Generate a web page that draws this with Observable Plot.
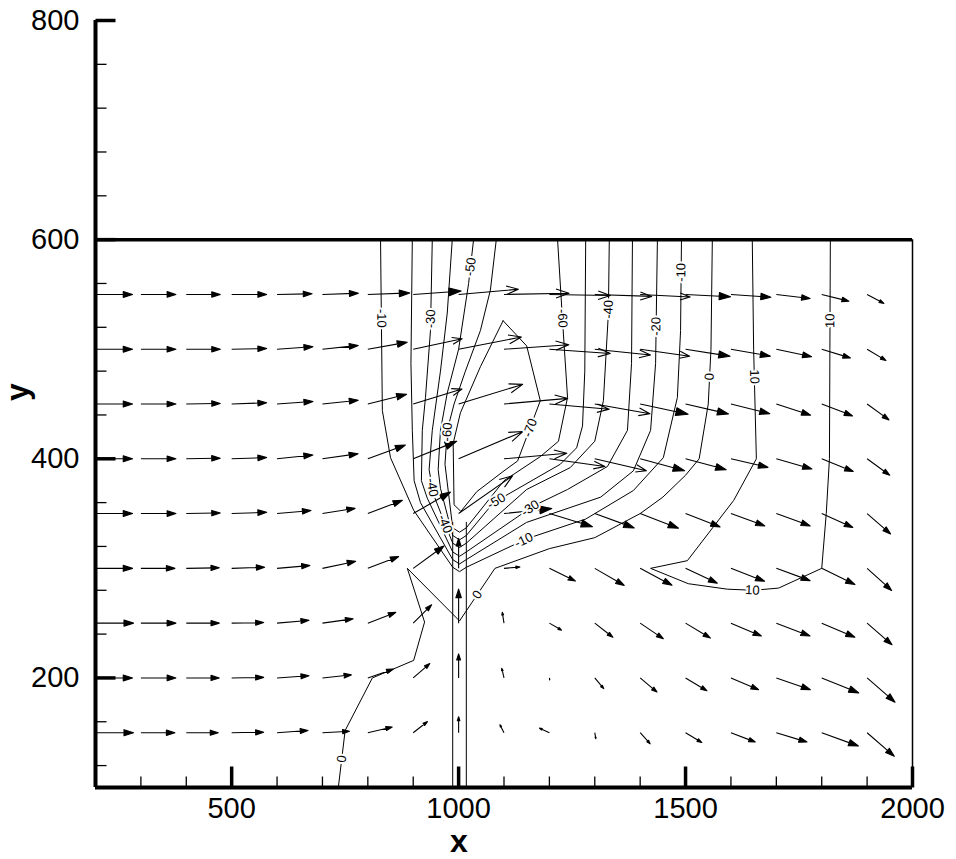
<!DOCTYPE html>
<html>
<head>
<meta charset="utf-8">
<script src="https://cdn.jsdelivr.net/npm/d3@7"></script>
<script src="https://cdn.jsdelivr.net/npm/@observablehq/plot@0.6"></script>
<style>
  body { margin: 0; background: #fff; }
</style>
</head>
<body>
<div id="chart"></div>
<script>
// ---------------------------------------------------------------
// Velocity field (vector grid) with contour lines of a scalar field
// around a vertical jet nozzle at x = 1000.
// ---------------------------------------------------------------

// Grid of the velocity vectors
const gridX = [200, 300, 400, 500, 600, 700, 800, 900, 1000, 1100, 1200, 1300, 1400, 1500, 1600, 1700, 1800, 1900];
const rowsY = [550, 500, 450, 400, 350, 300, 250, 200, 150];

// Speed (arbitrary units) and direction (degrees, counter-clockwise from +x) per row
const speed550 = [3.7, 3.5, 3.4, 3.5, 3.5, 3.6, 4.2, 4.8, 6.0, 6.5, 6.1, 5.7, 5.0, 4.5, 4.0, 3.4, 2.8, 1.9];
const dir550   = [0, 0, 0, 0, 1, 2, 2, 4, 5, 1, -1, -2, -3, -3, -4, -7, -14, -28];
const speed500 = [3.7, 3.5, 3.4, 3.5, 3.6, 3.6, 4.0, 5.0, 6.4, 6.5, 6.1, 5.6, 5.0, 4.5, 4.0, 3.6, 3.0, 2.2];
const dir500   = [0, 0, 0, 1, 4, 6, 10, 12, 11, 4, -4, -6, -8, -9, -10, -12, -17, -31];
const speed450 = [3.7, 3.5, 3.4, 3.5, 3.6, 3.6, 4.0, 5.1, 6.7, 6.4, 6.0, 5.6, 4.9, 4.4, 4.0, 3.6, 3.3, 2.7];
const dir450   = [0, 0, 1, 2, 4, 6, 14, 17, 17, 5, -5, -10, -12, -13, -14, -18, -21, -36];
const speed400 = [3.7, 3.5, 3.4, 3.5, 3.6, 3.6, 4.0, 4.7, 7.0, 6.3, 5.6, 5.3, 4.6, 4.2, 3.8, 3.7, 3.4, 2.8];
const dir400   = [0, 0, 1, 2, 6, 8, 20, 22, 23, 5, -8, -13, -15, -15, -13, -16, -22, -36];
const speed350 = [3.7, 3.5, 3.4, 3.5, 3.4, 3.3, 3.7, 4.3, 6.6, 4.8, 4.5, 4.2, 4.1, 3.7, 3.6, 3.6, 3.4, 3.1];
const dir350   = [0, 0, 1, 2, 5, 9, 21, 30, 35, 6, -17, -20, -21, -21, -20, -20, -24, -41];
const speed300 = [3.7, 3.4, 3.3, 3.3, 3.3, 3.4, 3.3, 3.8, 3.0, 1.6, 2.9, 3.4, 3.6, 3.5, 3.6, 3.6, 3.7, 3.3];
const dir300   = [0, 0, 1, 2, 5, 12, 21, 36, 90, 5, -26, -30, -28, -25, -21, -20, -26, -42];
const speed250 = [3.8, 3.5, 3.3, 3.2, 3.2, 3.1, 3.0, 2.6, 3.4, 1.1, 1.4, 2.3, 2.8, 2.9, 3.3, 3.6, 3.6, 3.3];
const dir250   = [0, 0, 0, 1, 5, 8, 21, 45, 90, 99, -30, -38, -34, -31, -23, -21, -23, -41];
const speed200 = [3.7, 3.5, 3.3, 3.2, 3.2, 2.9, 2.7, 2.2, 2.4, 1.0, 0.2, 1.4, 2.2, 2.5, 3.0, 3.6, 4.0, 3.7];
const dir200   = [0, 0, 0, 1, 4, 6, 19, 41, 90, 103, -80, -50, -40, -31, -23, -19, -22, -41];
const speed150 = [3.8, 3.4, 3.2, 3.2, 3.1, 2.7, 2.5, 1.8, 1.6, 0.9, 1.1, 0.6, 1.5, 1.9, 2.6, 3.2, 3.9, 3.6];
const dir150   = [0, 0, 0, 1, 4, 3, 13, 38, 90, 117, 155, -80, -48, -31, -21, -17, -20, -41];

// Contour lines, one polyline per level piece, as [x, y]
const lvlM70 = [[1098, 526], [1150, 503], [1180, 453], [1130, 398], [1100, 389], [1040, 370], [1005, 352], [990, 358], [988, 414], [1004, 442], [1048, 484], [1098, 526]];
const lvlM60 = [[1083, 600], [1070, 554], [1048, 517], [1015, 480], [990, 450], [975, 426], [970, 395], [975, 378], [987, 337], [1002, 333], [1017, 337], [1100, 380], [1180, 402], [1220, 416], [1240, 456], [1229, 526], [1218, 600]];
const lvlM50 = [[1033, 600], [1022, 560], [1000, 500], [975, 460], [960, 426], [955, 390], [960, 373], [987, 330], [1002, 326], [1017, 330], [1077, 360], [1224, 395], [1260, 410], [1273, 430], [1278, 480], [1280, 600]];
const lvlM40 = [[986, 600], [975, 533], [960, 480], [942, 426], [935, 390], [945, 367], [987, 323], [1002, 319], [1017, 323], [1150, 372], [1246, 392], [1300, 416], [1319, 453], [1330, 533], [1332, 600]];
const lvlM30 = [[942, 600], [938, 517], [927, 456], [920, 426], [918, 380], [931, 364], [987, 315], [1002, 311], [1017, 315], [1165, 357], [1240, 372], [1328, 393], [1372, 426], [1381, 487], [1383, 600]];
const lvlM20 = [[898, 600], [895, 487], [898, 426], [902, 380], [916, 360], [987, 308], [1002, 304], [1017, 308], [1150, 342], [1313, 365], [1385, 389], [1423, 426], [1434, 487], [1438, 600]];
const lvlM10 = [[828, 600], [832, 444], [850, 401], [901, 353], [987, 301], [1002, 297], [1017, 301], [1150, 327], [1280, 345], [1385, 371], [1451, 401], [1482, 456], [1489, 517], [1491, 600]];
const lvl0   = [[735, 100], [750, 152], [810, 200], [901, 216], [925, 251], [887, 300], [1002, 252], [1080, 300], [1200, 318], [1300, 328], [1400, 350], [1450, 365], [1500, 385], [1530, 400], [1550, 450], [1556, 500], [1559, 600]];
const lvl10  = [[1647, 600], [1650, 500], [1656, 400], [1606, 362], [1504, 307], [1423, 300], [1506, 286], [1592, 281], [1650, 280], [1705, 282], [1800, 300], [1810, 350], [1817, 400], [1818, 500], [1819, 600]];

// Nozzle outline
const nozzle = [[987, 342], [987, 100], [1017, 100], [1017, 342]];

// Contour labels: which line, which segment, and how far along it
const contourLabels = [
  {level: -10, line: lvlM10, seg: 0, t: 0.46},
  {level: -10, line: lvlM10, seg: 6, t: 0.95},
  {level: -10, line: lvlM10, seg: 12, t: 0.64},
  {level: -20, line: lvlM20, seg: 12, t: 0.3},
  {level: -30, line: lvlM30, seg: 0, t: 0.87},
  {level: -30, line: lvlM30, seg: 8, t: 0.95},
  {level: -40, line: lvlM40, seg: 4, t: 0.7},
  {level: -40, line: lvlM40, seg: 5, t: 0.6},
  {level: -40, line: lvlM40, seg: 13, t: 0.05},
  {level: -50, line: lvlM50, seg: 0, t: 0.62},
  {level: -50, line: lvlM50, seg: 10, t: 0.04},
  {level: -60, line: lvlM60, seg: 5, t: 0.05},
  {level: -60, line: lvlM60, seg: 15, t: 0.03},
  {level: -70, line: lvlM70, seg: 2, t: 0.45},
  {level: 0, line: lvl0, seg: 0, t: 0.5},
  {level: 0, line: lvl0, seg: 6, t: 0.5},
  {level: 0, line: lvl0, seg: 14, t: 0.5},
  {level: 10, line: lvl10, seg: 1, t: 0.25},
  {level: 10, line: lvl10, seg: 7, t: 0.95},
  {level: 10, line: lvl10, seg: 13, t: 0.26}
];

// Axis ticks and labels
const xMajor = [500, 1000, 1500, 2000];
const xMinor = [300, 400, 600, 700, 800, 900, 1100, 1200, 1300, 1400, 1600, 1700, 1800, 1900];
const yMajor = [200, 400, 600, 800];
const yMinor = [120, 160, 240, 280, 320, 360, 440, 480, 520, 560, 640, 680, 720, 760];

// ---------------------------------------------------------------
const width = 956, height = 859;
const marginLeft = 95, marginRight = 44, marginTop = 20, marginBottom = 72;
const xDomain = [200, 2000], yDomain = [100, 800];
const kx = (width - marginLeft - marginRight) / (xDomain[1] - xDomain[0]);
const ky = (height - marginTop - marginBottom) / (yDomain[1] - yDomain[0]);

const speedRows = [speed550, speed500, speed450, speed400, speed350, speed300, speed250, speed200, speed150];
const dirRows = [dir550, dir500, dir450, dir400, dir350, dir300, dir250, dir200, dir150];
const vectors = rowsY.flatMap((y, i) =>
  gridX.map((x, j) => ({x, y, speed: speedRows[i][j], dir: dirRows[i][j]}))
);

const contourLines = [lvlM70, lvlM60, lvlM50, lvlM40, lvlM30, lvlM20, lvlM10, lvl0, lvl10, nozzle];
const contourRows = contourLines.flatMap((pts, k) => pts.map(([x, y]) => ({id: k, x, y})));

const labelRows = contourLabels.map(({level, line, seg, t}) => {
  const [x0, y0] = line[seg], [x1, y1] = line[seg + 1];
  let rot = -Math.atan2((y1 - y0) * ky, (x1 - x0) * kx) * 180 / Math.PI;
  if (rot > 90) rot -= 180;
  if (rot <= -90) rot += 180;
  return {x: x0 + t * (x1 - x0), y: y0 + t * (y1 - y0), text: String(level), rot};
});

// Shapes for the vector marks
const tickShape = {
  draw(context, l) { context.moveTo(0, 0); context.lineTo(0, -l); }
};
const solidArrow = {
  draw(context, l) {
    const h = l * 0.25, w = l * 0.08;
    context.moveTo(0, 0);
    context.lineTo(0, -l + h * 0.5);
    context.moveTo(-w, h - l);
    context.lineTo(0, -l);
    context.lineTo(w, h - l);
    context.closePath();
  }
};
const openArrow = {
  draw(context, l) {
    const h = l * 0.2, w = l * 0.07;
    context.moveTo(0, 0);
    context.lineTo(0, -l);
    context.moveTo(-w, h - l);
    context.lineTo(0, -l);
    context.lineTo(w, h - l);
  }
};

const chart = Plot.plot({
  width, height, marginLeft, marginRight, marginTop, marginBottom,
  style: {fontFamily: "'Liberation Sans', Arial, Helvetica, sans-serif", background: "white", color: "black"},
  x: {domain: xDomain, axis: null},
  y: {domain: yDomain, axis: null},
  length: {type: "linear", domain: [0, 1], range: [0, 10]},
  marks: [
    // contour lines and nozzle
    Plot.line(contourRows, {x: "x", y: "y", z: "id", stroke: "black", strokeWidth: 1, strokeLinejoin: "miter"}),

    // velocity vectors
    Plot.vector(vectors, {
      filter: d => d.speed < 5,
      x: "x", y: "y", length: "speed", rotate: d => 90 - d.dir, anchor: "start",
      shape: solidArrow, stroke: "black", fill: "black", strokeWidth: 1.1, strokeLinecap: "butt"
    }),
    Plot.vector(vectors, {
      filter: d => d.speed >= 5,
      x: "x", y: "y", length: "speed", rotate: d => 90 - d.dir, anchor: "start",
      shape: openArrow, stroke: "black", strokeWidth: 1.1, strokeLinecap: "butt"
    }),

    // contour labels
    Plot.text(labelRows, {
      x: "x", y: "y", text: "text", rotate: "rot", fontSize: 13,
      fill: "black", stroke: "white", strokeWidth: 4, paintOrder: "stroke"
    }),

    // frame
    Plot.ruleX([200], {y1: 100, y2: 800, stroke: "black", strokeWidth: 4}),
    Plot.ruleY([100], {x1: 200, x2: 2000, stroke: "black", strokeWidth: 4}),
    Plot.ruleY([600], {x1: 200, x2: 2000, stroke: "black", strokeWidth: 3.5}),
    Plot.ruleX([2000], {y1: 100, y2: 600, stroke: "black", strokeWidth: 1.5}),

    // inward ticks
    Plot.vector(yMajor, {x: 200, y: d => d, length: 20, rotate: 90, anchor: "start", shape: tickShape, stroke: "black", strokeWidth: 3.5, strokeLinecap: "butt"}),
    Plot.vector(yMinor, {x: 200, y: d => d, length: 11, rotate: 90, anchor: "start", shape: tickShape, stroke: "black", strokeWidth: 1.3, strokeLinecap: "butt"}),
    Plot.vector(xMajor, {x: d => d, y: 100, length: 21, rotate: 0, anchor: "start", shape: tickShape, stroke: "black", strokeWidth: 3.5, strokeLinecap: "butt"}),
    Plot.vector(xMinor, {x: d => d, y: 100, length: 11, rotate: 0, anchor: "start", shape: tickShape, stroke: "black", strokeWidth: 1.3, strokeLinecap: "butt"}),

    // tick labels
    Plot.text(yMajor, {x: 200, y: d => d, text: d => String(d), textAnchor: "end", dx: -16, fontSize: 29, fill: "black"}),
    Plot.text(xMajor, {x: d => d, y: 100, text: d => String(d), dy: 21, fontSize: 29, fill: "black"}),

    // axis titles
    Plot.text(["x"], {frameAnchor: "bottom", text: d => d, dx: -45, dy: 64, fontSize: 32, fontWeight: "bold", fill: "black"}),
    Plot.text(["y"], {frameAnchor: "left", text: d => d, dx: -78, dy: -3, rotate: -90, fontSize: 32, fontWeight: "bold", fill: "black"})
  ]
});

document.getElementById("chart").appendChild(chart);
</script>
</body>
</html>
